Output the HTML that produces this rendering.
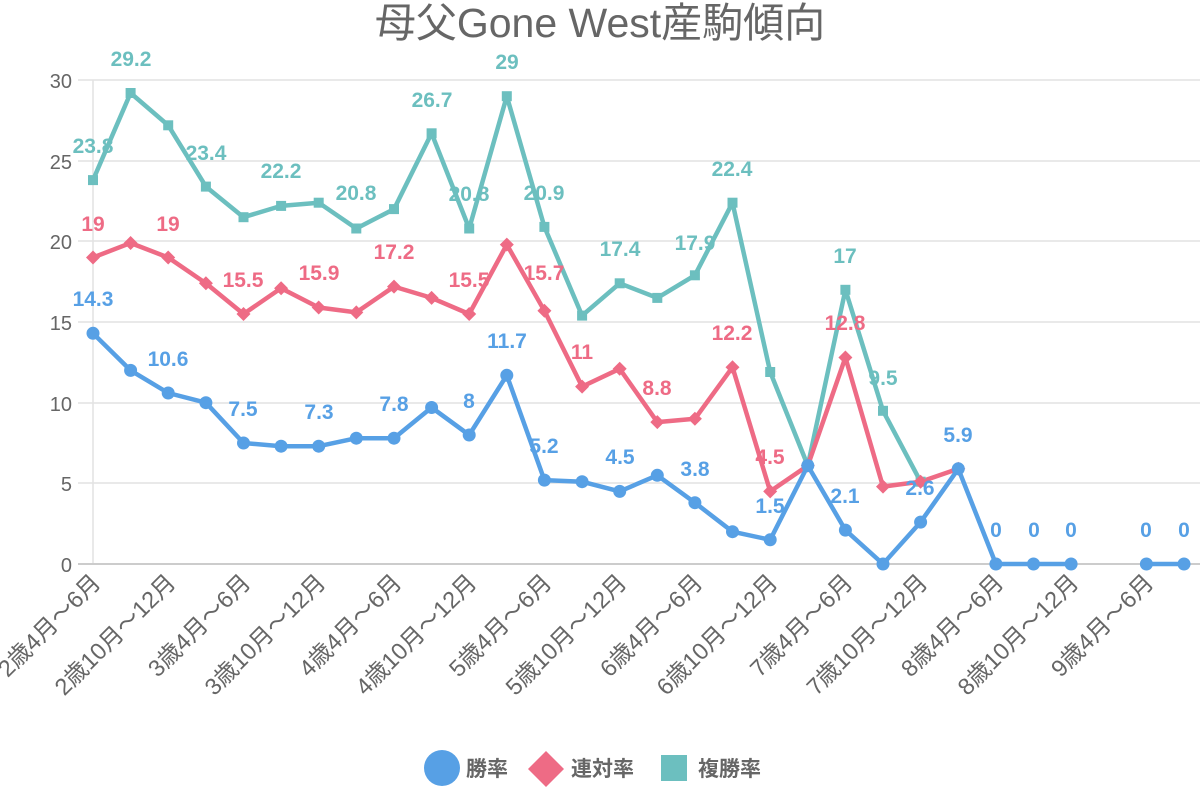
<!DOCTYPE html>
<html><head><meta charset="utf-8"><style>
html,body{margin:0;padding:0;background:#fff;}
svg{display:block;font-family:"Liberation Sans","Noto Sans CJK JP",sans-serif;}
.t{fill:#666;font-size:20px;}
.x{fill:#666;font-size:23.5px;}
.lb{font-size:21px;font-weight:bold;text-anchor:middle;}
</style></head><body>
<svg width="1200" height="800" viewBox="0 0 1200 800" xmlns="http://www.w3.org/2000/svg">
<text x="600" y="37" text-anchor="middle" style="font-size:41px;fill:#666">母父Gone West産駒傾向</text>
<g stroke="#e2e2e2" stroke-width="1.5">
<line x1="78" y1="80" x2="1200" y2="80"/><line x1="78" y1="161" x2="1200" y2="161"/>
<line x1="78" y1="241" x2="1200" y2="241"/><line x1="78" y1="322" x2="1200" y2="322"/>
<line x1="78" y1="403" x2="1200" y2="403"/><line x1="78" y1="483" x2="1200" y2="483"/>
<line x1="93" y1="80" x2="93" y2="564"/>
</g>
<line x1="78" y1="564" x2="1200" y2="564" stroke="#ccc" stroke-width="2"/>
<g class="t" text-anchor="end">
<text x="72" y="88">30</text><text x="72" y="169">25</text><text x="72" y="249">20</text>
<text x="72" y="330">15</text><text x="72" y="411">10</text><text x="72" y="491">5</text><text x="72" y="572">0</text>
</g>
<g class="x" text-anchor="end">
<text transform="translate(102,584) rotate(-45)">2歳4月～6月</text>
<text transform="translate(177,584) rotate(-45)">2歳10月～12月</text>
<text transform="translate(252,584) rotate(-45)">3歳4月～6月</text>
<text transform="translate(327,584) rotate(-45)">3歳10月～12月</text>
<text transform="translate(403,584) rotate(-45)">4歳4月～6月</text>
<text transform="translate(478,584) rotate(-45)">4歳10月～12月</text>
<text transform="translate(553,584) rotate(-45)">5歳4月～6月</text>
<text transform="translate(628,584) rotate(-45)">5歳10月～12月</text>
<text transform="translate(704,584) rotate(-45)">6歳4月～6月</text>
<text transform="translate(779,584) rotate(-45)">6歳10月～12月</text>
<text transform="translate(854,584) rotate(-45)">7歳4月～6月</text>
<text transform="translate(929,584) rotate(-45)">7歳10月～12月</text>
<text transform="translate(1005,584) rotate(-45)">8歳4月～6月</text>
<text transform="translate(1080,584) rotate(-45)">8歳10月～12月</text>
<text transform="translate(1155,584) rotate(-45)">9歳4月～6月</text>
</g>
<defs>
<rect id="sq" x="-5" y="-5" width="10" height="10" fill="#6cbfbf"/>
<path id="dm" d="M0,-7 L7,0 L0,7 L-7,0Z" fill="#ee6b85"/>
<circle id="ci" r="6.5" fill="#57a0e5"/>
</defs>
<g fill="none" stroke-width="4.5" stroke-linejoin="round">
<polyline stroke="#6cbfbf" points="93,180.1 130.6,93 168.2,125.3 205.9,186.6 243.5,217.2 281.1,205.9 318.7,202.7 356.3,228.5 394,209.1 431.6,133.3 469.2,228.5 506.8,96.2 544.4,226.9 582.1,315.6 619.7,283.3 657.3,297.9 694.9,275.3 732.5,202.7 770.2,372 807.8,465.6 845.4,289.8 883,410.8 920.6,481.7"/>
<polyline stroke="#ee6b85" points="93,257.5 130.6,243 168.2,257.5 205.9,283.3 243.5,314 281.1,288.2 318.7,307.5 356.3,312.4 394,286.6 431.6,297.9 469.2,314 506.8,244.6 544.4,310.8 582.1,386.6 619.7,368.8 657.3,422.1 694.9,418.8 732.5,367.2 770.2,491.4 807.8,465.6 845.4,357.5 883,486.6 920.6,481.7 958.3,468.8"/>
<polyline stroke="#57a0e5" points="93,333.3 130.6,370.4 168.2,393 205.9,402.7 243.5,443 281.1,446.2 318.7,446.2 356.3,438.2 394,438.2 431.6,407.5 469.2,435 506.8,375.3 544.4,480.1 582.1,481.7 619.7,491.4 657.3,475.3 694.9,502.7 732.5,531.7 770.2,539.8 807.8,465.6 845.4,530.1 883,564 920.6,522.1 958.3,468.8 995.9,564 1033.5,564 1071.1,564"/>
<polyline stroke="#57a0e5" points="1146.4,564 1184,564"/>
</g>
<g>
<use href="#sq" x="93" y="180.1"/><use href="#sq" x="130.6" y="93"/><use href="#sq" x="168.2" y="125.3"/><use href="#sq" x="205.9" y="186.6"/><use href="#sq" x="243.5" y="217.2"/><use href="#sq" x="281.1" y="205.9"/><use href="#sq" x="318.7" y="202.7"/><use href="#sq" x="356.3" y="228.5"/><use href="#sq" x="394" y="209.1"/><use href="#sq" x="431.6" y="133.3"/><use href="#sq" x="469.2" y="228.5"/><use href="#sq" x="506.8" y="96.2"/><use href="#sq" x="544.4" y="226.9"/><use href="#sq" x="582.1" y="315.6"/><use href="#sq" x="619.7" y="283.3"/><use href="#sq" x="657.3" y="297.9"/><use href="#sq" x="694.9" y="275.3"/><use href="#sq" x="732.5" y="202.7"/><use href="#sq" x="770.2" y="372"/><use href="#sq" x="807.8" y="465.6"/><use href="#sq" x="845.4" y="289.8"/><use href="#sq" x="883" y="410.8"/><use href="#sq" x="920.6" y="481.7"/>
<use href="#dm" x="93" y="257.5"/><use href="#dm" x="130.6" y="243"/><use href="#dm" x="168.2" y="257.5"/><use href="#dm" x="205.9" y="283.3"/><use href="#dm" x="243.5" y="314"/><use href="#dm" x="281.1" y="288.2"/><use href="#dm" x="318.7" y="307.5"/><use href="#dm" x="356.3" y="312.4"/><use href="#dm" x="394" y="286.6"/><use href="#dm" x="431.6" y="297.9"/><use href="#dm" x="469.2" y="314"/><use href="#dm" x="506.8" y="244.6"/><use href="#dm" x="544.4" y="310.8"/><use href="#dm" x="582.1" y="386.6"/><use href="#dm" x="619.7" y="368.8"/><use href="#dm" x="657.3" y="422.1"/><use href="#dm" x="694.9" y="418.8"/><use href="#dm" x="732.5" y="367.2"/><use href="#dm" x="770.2" y="491.4"/><use href="#dm" x="807.8" y="465.6"/><use href="#dm" x="845.4" y="357.5"/><use href="#dm" x="883" y="486.6"/><use href="#dm" x="920.6" y="481.7"/><use href="#dm" x="958.3" y="468.8"/>
<use href="#ci" x="93" y="333.3"/><use href="#ci" x="130.6" y="370.4"/><use href="#ci" x="168.2" y="393"/><use href="#ci" x="205.9" y="402.7"/><use href="#ci" x="243.5" y="443"/><use href="#ci" x="281.1" y="446.2"/><use href="#ci" x="318.7" y="446.2"/><use href="#ci" x="356.3" y="438.2"/><use href="#ci" x="394" y="438.2"/><use href="#ci" x="431.6" y="407.5"/><use href="#ci" x="469.2" y="435"/><use href="#ci" x="506.8" y="375.3"/><use href="#ci" x="544.4" y="480.1"/><use href="#ci" x="582.1" y="481.7"/><use href="#ci" x="619.7" y="491.4"/><use href="#ci" x="657.3" y="475.3"/><use href="#ci" x="694.9" y="502.7"/><use href="#ci" x="732.5" y="531.7"/><use href="#ci" x="770.2" y="539.8"/><use href="#ci" x="807.8" y="465.6"/><use href="#ci" x="845.4" y="530.1"/><use href="#ci" x="883" y="564"/><use href="#ci" x="920.6" y="522.1"/><use href="#ci" x="958.3" y="468.8"/><use href="#ci" x="995.9" y="564"/><use href="#ci" x="1033.5" y="564"/><use href="#ci" x="1071.1" y="564"/><use href="#ci" x="1146.4" y="564"/><use href="#ci" x="1184" y="564"/>
</g>
<g class="lb" fill="#6cbfbf">
<text x="93" y="153">23.8</text><text x="131" y="66">29.2</text><text x="206" y="160">23.4</text><text x="281" y="178">22.2</text><text x="356" y="200">20.8</text><text x="432" y="107">26.7</text><text x="469" y="201">20.8</text><text x="507" y="69">29</text><text x="544" y="200">20.9</text><text x="620" y="256">17.4</text><text x="695" y="250">17.9</text><text x="732" y="176">22.4</text><text x="845" y="263">17</text><text x="883" y="385">9.5</text>
</g>
<g class="lb" fill="#ee6b85">
<text x="93" y="231">19</text><text x="168" y="231">19</text><text x="243" y="287">15.5</text><text x="319" y="280">15.9</text><text x="394" y="259">17.2</text><text x="469" y="287">15.5</text><text x="544" y="280">15.7</text><text x="582" y="359">11</text><text x="657" y="395">8.8</text><text x="732" y="340">12.2</text><text x="770" y="464">4.5</text><text x="845" y="330">12.8</text>
</g>
<g class="lb" fill="#57a0e5">
<text x="93" y="306">14.3</text><text x="168" y="366">10.6</text><text x="243" y="416">7.5</text><text x="319" y="419">7.3</text><text x="394" y="411">7.8</text><text x="469" y="408">8</text><text x="507" y="348">11.7</text><text x="544" y="453">5.2</text><text x="620" y="464">4.5</text><text x="695" y="476">3.8</text><text x="770" y="513">1.5</text><text x="845" y="503">2.1</text><text x="920" y="495">2.6</text><text x="958" y="442">5.9</text>
<text x="996" y="537">0</text><text x="1034" y="537">0</text><text x="1071" y="537">0</text><text x="1146" y="537">0</text><text x="1184" y="537">0</text>
</g>
<circle cx="442" cy="768" r="18" fill="#57a0e5"/>
<text x="466" y="776" style="font-size:21px;font-weight:bold;fill:#666">勝率</text>
<path d="M546,751 L564,769 L546,787 L528,769Z" fill="#ee6b85"/>
<text x="571" y="776" style="font-size:21px;font-weight:bold;fill:#666">連対率</text>
<rect x="661" y="755" width="26" height="26" fill="#6cbfbf"/>
<text x="698" y="776" style="font-size:21px;font-weight:bold;fill:#666">複勝率</text>
</svg>
</body></html>
